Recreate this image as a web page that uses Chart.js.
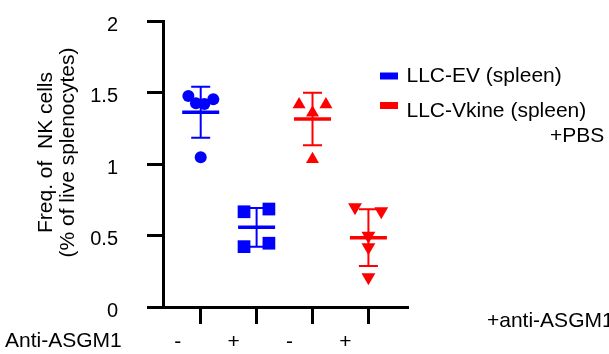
<!DOCTYPE html>
<html><head><meta charset="utf-8">
<script src="https://cdn.jsdelivr.net/npm/chart.js@4.4.1/dist/chart.umd.min.js"></script>
<style>html,body{margin:0;padding:0;background:#fff;} #wrap{position:relative;width:609px;height:354px;}</style>
</head><body><div id="wrap"><canvas id="c" width="609" height="354"></canvas></div>
<script>
// ---- data ----
const groupPositions = [1, 2, 3, 4];
const xTickLabels = ['-', '+', '-', '+'];
const yTickValues = [0, 0.5, 1, 1.5, 2];
const yTickLabels = ['0', '0.5', '1', '1.5', '2'];
const seriesNames = ['LLC-EV (spleen)', 'LLC-Vkine (spleen)'];

const evPBS = [1.475, 1.452, 1.425, 1.420, 1.047];
const evPBSJitter = [-0.22, 0.225, -0.085, 0.065, 0];
const evASGM1 = [0.666, 0.685, 0.422, 0.446];
const evASGM1Jitter = [-0.225, 0.22, -0.225, 0.22];
const vkPBS = [1.416, 1.416, 1.358, 1.034];
const vkPBSJitter = [-0.24, 0.24, 0, 0];
const vkASGM1 = [0.698, 0.670, 0.499, 0.418, 0.208];
const vkASGM1Jitter = [-0.24, 0.23, 0, 0, 0];

const groupMeans = [1.362, 0.557, 1.315, 0.485];
const groupSDs = [0.178, 0.136, 0.184, 0.199];

// ---- styles ----
const BLUE = '#0000FF', RED = '#FF0000';
const groupColors = [BLUE, BLUE, RED, RED];
const FONT = "'Liberation Sans', Arial, sans-serif";

function pts(vals, jit, pos) { return vals.map((v, i) => ({ x: pos + jit[i], y: v })); }

const overlay = {
  id: 'overlay',
  beforeDatasetsDraw(chart) {
    const { ctx, scales: { x, y } } = chart;
    ctx.save();
    groupPositions.forEach((g, i) => {
      const px = x.getPixelForValue(g);
      const pm = y.getPixelForValue(groupMeans[i]);
      const pt = y.getPixelForValue(groupMeans[i] + groupSDs[i]);
      const pb = y.getPixelForValue(groupMeans[i] - groupSDs[i]);
      ctx.strokeStyle = groupColors[i];
      ctx.lineWidth = 2;
      ctx.beginPath();
      ctx.moveTo(px, pt); ctx.lineTo(px, pb);
      ctx.moveTo(px - 9.5, pt); ctx.lineTo(px + 9.5, pt);
      ctx.moveTo(px - 9.5, pb); ctx.lineTo(px + 9.5, pb);
      ctx.stroke();
      ctx.lineWidth = 3.5;
      ctx.beginPath();
      ctx.moveTo(px - 18.5, pm); ctx.lineTo(px + 18.5, pm);
      ctx.stroke();
    });
    ctx.restore();
  },
  afterDraw(chart) {
    const { ctx } = chart;
    ctx.save();
    ctx.fillStyle = '#000';
    ctx.textBaseline = 'alphabetic';
    ctx.textAlign = 'left';
    ctx.font = '21px ' + FONT;
    // legend
    [BLUE, RED].forEach((c, i) => {
      ctx.fillStyle = c;
      ctx.fillRect(380, 72.5 + i * 29.5, 18, 7);
      ctx.fillStyle = '#000';
      ctx.fillText(seriesNames[i], 406.5, 82 + i * 34.5);
    });
    ctx.fillText('+PBS', 550, 142);
    ctx.fillText('+anti-ASGM1', 487, 327);
    ctx.fillText('Anti-ASGM1', 5, 347);
    // y title
    ctx.translate(0, 152.5);
    ctx.rotate(-Math.PI / 2);
    ctx.textAlign = 'center';
    ctx.fillText('Freq. of  NK cells', 0, 51.5);
    ctx.fillText('(% of live splenocytes)', 0, 74);
    ctx.restore();
  }
};

new Chart(document.getElementById('c'), {
  type: 'scatter',
  data: {
    datasets: [
      { label: 'LLC-EV +PBS', data: pts(evPBS, evPBSJitter, 1), pointStyle: 'circle', pointRadius: 6, backgroundColor: BLUE, borderWidth: 0 },
      { label: 'LLC-EV +anti-ASGM1', data: pts(evASGM1, evASGM1Jitter, 2), pointStyle: 'rect', pointRadius: 9, backgroundColor: BLUE, borderWidth: 0 },
      { label: 'LLC-Vkine +PBS', data: pts(vkPBS, vkPBSJitter, 3), pointStyle: 'triangle', pointRadius: 7.5, backgroundColor: RED, borderWidth: 0 },
      { label: 'LLC-Vkine +anti-ASGM1', data: pts(vkASGM1, vkASGM1Jitter, 4), pointStyle: 'triangle', pointRotation: 180, pointRadius: 8, backgroundColor: RED, borderWidth: 0 }
    ]
  },
  options: {
    responsive: false,
    animation: false,
    events: [],
    layout: { autoPadding: false, padding: { left: 0, top: 21, right: 201, bottom: 0 } },
    plugins: { legend: { display: false }, tooltip: { enabled: false } },
    scales: {
      x: {
        type: 'linear', min: 0.3256, max: 4.708,
        afterBuildTicks: (s) => { s.ticks = groupPositions.map(v => ({ value: v })); },
        afterFit: (s) => { s.height = 47; s.paddingLeft = 0; s.paddingRight = 0; },
        grid: { drawOnChartArea: false, drawTicks: true, tickLength: 17, tickWidth: 3, tickColor: '#000' },
        border: { display: true, color: '#000', width: 3 },
        ticks: { color: '#000', font: { family: FONT, size: 21 }, padding: 6, labelOffset: -23, maxRotation: 0,
          callback: (v, i) => xTickLabels[i] }
      },
      y: {
        type: 'linear', min: 0, max: 2,
        afterBuildTicks: (s) => { s.ticks = yTickValues.map(v => ({ value: v })); },
        afterFit: (s) => { s.width = 163; s.paddingTop = 0; s.paddingBottom = 0; },
        grid: { drawOnChartArea: false, drawTicks: true, tickLength: 16, tickWidth: 3, tickColor: '#000' },
        border: { display: true, color: '#000', width: 3 },
        ticks: { color: '#000', font: { family: FONT, size: 20 }, padding: 29, labelOffset: 4,
          callback: (v, i) => yTickLabels[i] }
      }
    }
  },
  plugins: [overlay]
});
</script></body></html>
